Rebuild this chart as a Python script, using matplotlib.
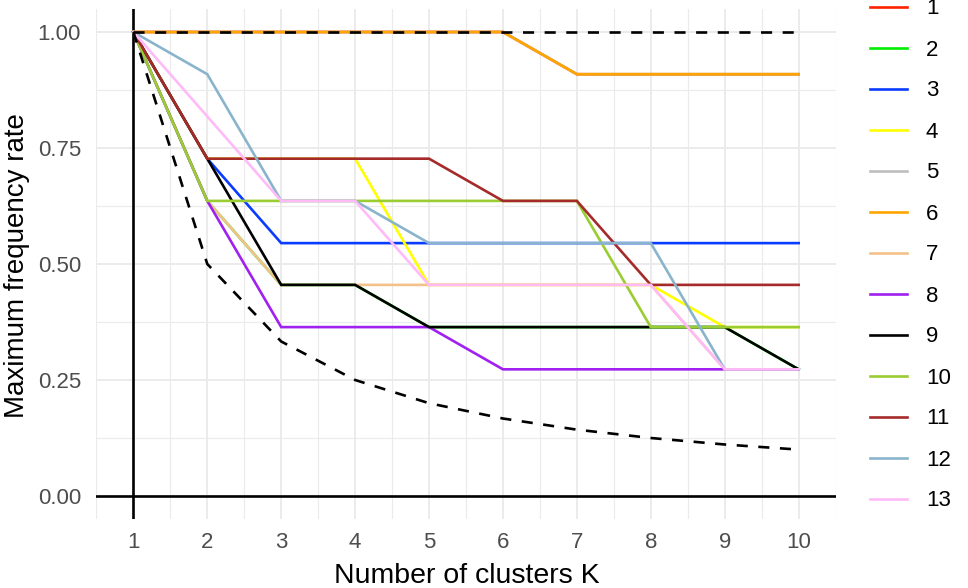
import matplotlib
matplotlib.use("Agg")
import matplotlib.pyplot as plt
from matplotlib.lines import Line2D

plt.rcParams['font.family'] = ['Liberation Sans', 'DejaVu Sans']

K = [1, 2, 3, 4, 5, 6, 7, 8, 9, 10]
series_names = ["1", "2", "3", "4", "5", "6", "7", "8", "9", "10", "11", "12", "13"]
s1 = [1.000, 1.000, 1.000, 1.000, 1.000, 1.000, 0.909, 0.909, 0.909, 0.909]
s2 = [1.000, 0.636, 0.455, 0.455, 0.364, 0.364, 0.364, 0.364, 0.364, 0.273]
s3 = [1.000, 0.727, 0.545, 0.545, 0.545, 0.545, 0.545, 0.545, 0.545, 0.545]
s4 = [1.000, 0.727, 0.727, 0.727, 0.455, 0.455, 0.455, 0.455, 0.364, 0.364]
s5 = [1.000, 1.000, 1.000, 1.000, 1.000, 1.000, 0.909, 0.909, 0.909, 0.909]
s6 = [1.000, 1.000, 1.000, 1.000, 1.000, 1.000, 0.909, 0.909, 0.909, 0.909]
s7 = [1.000, 0.636, 0.455, 0.455, 0.455, 0.455, 0.455, 0.455, 0.273, 0.273]
s8 = [1.000, 0.636, 0.364, 0.364, 0.364, 0.273, 0.273, 0.273, 0.273, 0.273]
s9 = [1.000, 0.727, 0.455, 0.455, 0.364, 0.364, 0.364, 0.364, 0.364, 0.273]
s10 = [1.000, 0.636, 0.636, 0.636, 0.636, 0.636, 0.636, 0.364, 0.364, 0.364]
s11 = [1.000, 0.727, 0.727, 0.727, 0.727, 0.636, 0.636, 0.455, 0.455, 0.455]
s12 = [1.000, 0.909, 0.636, 0.636, 0.545, 0.545, 0.545, 0.545, 0.273, 0.273]
s13 = [1.000, 0.818, 0.636, 0.636, 0.455, 0.455, 0.455, 0.455, 0.273, 0.273]
upper_bound = [1.0, 1.0, 1.0, 1.0, 1.0, 1.0, 1.0, 1.0, 1.0, 1.0]
lower_bound = [1.0, 0.5, 0.333, 0.25, 0.2, 0.167, 0.143, 0.125, 0.111, 0.1]
y_ticks = [0.0, 0.25, 0.5, 0.75, 1.0]
y_tick_labels = ["0.00", "0.25", "0.50", "0.75", "1.00"]

all_series = [s1, s2, s3, s4, s5, s6, s7, s8, s9, s10, s11, s12, s13]
colors = ['#FF2200', '#00EE00', '#0A3CFF', '#FFFF00', '#BEBEBE', '#FFA500',
          '#F5C18A', '#A020F0', '#000000', '#9ACD32', '#A52A2A', '#8AB4CC', '#FFBBF8']

W, H = 968, 588
fig = plt.figure(figsize=(W / 100, H / 100), dpi=100)
left_px, right_px, top_px, bot_px = 96.4, 835.6, 8.8, 519.2
ax = fig.add_axes([left_px / W, 1 - bot_px / H, (right_px - left_px) / W, (bot_px - top_px) / H])

ax.set_xlim(0.55, 10.45)
ax.set_ylim(-0.05, 1.05)
for s in ax.spines.values():
    s.set_visible(False)

ax.set_xticks(K)
ax.set_xticks([k + 0.5 for k in K[:-1]] + [0.5, 10.5], minor=True)
ax.set_yticks(y_ticks)
ax.set_yticklabels(y_tick_labels)
ax.set_yticks([0.125, 0.375, 0.625, 0.875], minor=True)
ax.grid(True, which='major', color='#EBEBEB', lw=1.4, zorder=0)
ax.grid(True, which='minor', color='#EBEBEB', lw=0.8, zorder=0)
ax.tick_params(which='both', length=0, labelsize=16, labelcolor='#4D4D4D')
ax.tick_params(axis='x', pad=9)
ax.tick_params(axis='y', pad=11)
ax.set_axisbelow(True)

ax.axvline(1, color='black', lw=1.9, zorder=1)
ax.axhline(0, color='black', lw=1.9, zorder=1)

handles = []
for name, ys, c in zip(series_names, all_series, colors):
    ax.plot(K, ys, color=c, lw=1.9, label=name, zorder=2, solid_joinstyle='miter')
    handles.append(Line2D([], [], color=c, lw=1.9))

ax.plot(K, upper_bound, color='black', lw=1.9, dashes=(4.2, 4.0), zorder=3)
ax.plot(K, lower_bound, color='black', lw=1.9, dashes=(4.2, 4.0), zorder=3)

fig.text(17 / W, 1 - 266 / H, "Maximum frequency rate", rotation=90, ha='center', va='center', fontsize=20)
fig.text(467 / W, 1 - 583 / H, "Number of clusters K", ha='center', va='baseline', fontsize=20.5)

leg = fig.legend(handles, series_names, loc='upper left', bbox_to_anchor=(870 / W, 1 - (-1.5) / H),
                 frameon=False, fontsize=16, handlelength=1.66, handletextpad=0.86,
                 labelspacing=0.9, borderaxespad=0, borderpad=0)

fig.savefig("out.png", dpi=100)
